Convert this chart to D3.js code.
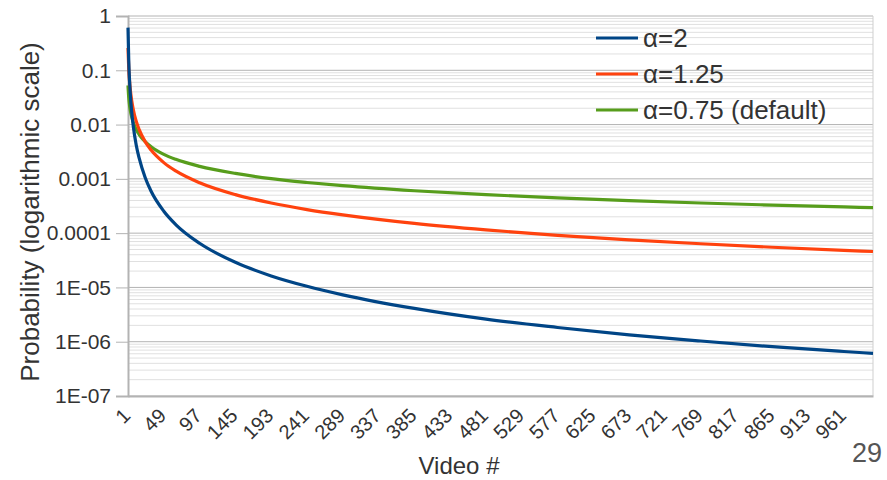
<!DOCTYPE html>
<html>
<head>
<meta charset="utf-8">
<script src="https://cdn.jsdelivr.net/npm/d3@7"></script>
<style>
  body { margin: 0; background: #fff; }
  svg { font-family: "Liberation Sans", Arial, sans-serif; }
</style>
</head>
<body>
<svg id="chart" width="887" height="480"></svg>
<script>
// video rank sampled along the curves
const videoIdx = [1, 2, 3, 4, 6, 8, 12, 16, 24, 32, 49, 65, 97, 145, 193, 241, 289, 385, 481, 577, 673, 769, 865, 961, 1000];

// probabilities
const alpha2 = [0.61, 0.152, 0.0676, 0.038, 0.0169, 0.0095, 0.0042, 0.0024, 0.00106, 0.00059, 0.000253, 0.000144,
  6.5e-5, 2.9e-5, 1.63e-5, 1.05e-5, 7.3e-6, 4.1e-6, 2.6e-6, 1.83e-6, 1.34e-6, 1.03e-6, 8.1e-7, 6.6e-7, 6.1e-7];
const alpha125 = [0.258, 0.1085, 0.0653, 0.0456, 0.0275, 0.0192, 0.01155, 0.00806, 0.00486, 0.00339, 0.00199, 0.0014,
  0.000848, 0.000513, 0.000359, 0.000272, 0.000217, 0.000151, 0.0001146, 9.12e-5, 7.53e-5, 6.37e-5, 5.5e-5, 4.82e-5, 4.59e-5];
const alpha075 = [0.0525, 0.0312, 0.023, 0.0186, 0.0137, 0.011, 0.00814, 0.00656, 0.00484, 0.0039, 0.00283, 0.00229,
  0.0017, 0.00126, 0.00101, 0.000858, 0.000749, 0.000604, 0.000511, 0.000446, 0.000397, 0.000359, 0.000329, 0.000304, 0.000295];

const seriesNames = ['α=2', 'α=1.25', 'α=0.75 (default)'];
const seriesColors = ['#004586', '#ff420e', '#579d1c'];

const yTicks = [1, 0.1, 0.01, 0.001, 0.0001, 1e-5, 1e-6, 1e-7];
const yTickLabels = ['1', '0.1', '0.01', '0.001', '0.0001', '1E-05', '1E-06', '1E-07'];
const xTicks = [1, 49, 97, 145, 193, 241, 289, 337, 385, 433, 481, 529, 577, 625, 673, 721, 769, 817, 865, 913, 961];

let margin = { top: 16, right: 14, bottom: 84, left: 128 };
let width = 887, height = 480;

let svg = d3.select('#chart');

let x = d3.scaleLinear()
  .domain([1, 1000])
  .range([margin.left, width - margin.right]);

let y = d3.scaleLog()
  .domain([1e-7, 1])
  .range([height - margin.bottom, margin.top]);

// minor grid (2..9 of each decade)
let minor = [];
yTicks.slice(1).forEach(t => {
  for (let m = 2; m <= 9; m++) minor.push(t * m);
});

svg.append('g')
  .selectAll('line')
  .data(minor)
  .enter()
    .append('line')
    .attr('x1', x(1)).attr('x2', x(1000))
    .attr('y1', d => y(d)).attr('y2', d => y(d))
    .attr('stroke', '#e0e0e0')
    .attr('stroke-width', 1);

// major grid
svg.append('g')
  .selectAll('line')
  .data(yTicks)
  .enter()
    .append('line')
    .attr('x1', x(1)).attr('x2', x(1000))
    .attr('y1', d => y(d)).attr('y2', d => y(d))
    .attr('stroke', '#b3b3b3')
    .attr('stroke-width', 1);

// right border
svg.append('line')
  .attr('x1', x(1000)).attr('x2', x(1000))
  .attr('y1', y(1)).attr('y2', y(1e-7))
  .attr('stroke', '#cfcfcf');

// y axis
let yAxis = svg.append('g')
  .attr('transform', `translate(${x(1)},0)`)
  .call(d3.axisLeft(y).tickValues(yTicks).tickFormat((d, i) => yTickLabels[i]).tickSize(12).tickPadding(5));
yAxis.select('.domain').attr('stroke', '#b3b3b3').attr('stroke-width', 2);
yAxis.selectAll('.tick line').attr('stroke', '#b3b3b3');
yAxis.selectAll('.tick text')
  .attr('font-size', 21)
  .attr('fill', '#333');

// x axis
let xAxis = svg.append('g')
  .attr('transform', `translate(0,${y(1e-7)})`)
  .call(d3.axisBottom(x).tickValues(xTicks).tickSize(0).tickFormat(d => d));
xAxis.select('.domain').attr('stroke', '#b3b3b3').attr('stroke-width', 2);
xAxis.selectAll('.tick text')
  .attr('font-size', 20)
  .attr('fill', '#333')
  .attr('text-anchor', 'end')
  .attr('y', 0)
  .attr('dy', 0)
  .attr('transform', 'translate(3,21) rotate(-45)');

// curves
let line = d3.line()
  .x(d => x(d[0]))
  .y(d => y(d[1]))
  .curve(d3.curveMonotoneX);

let series = [alpha2, alpha125, alpha075];
series.slice().reverse().forEach((vals, j) => {
  let i = series.length - 1 - j;
  svg.append('path')
    .datum(videoIdx.map((v, k) => [v, vals[k]]))
    .attr('d', line)
    .attr('fill', 'none')
    .attr('stroke', seriesColors[i])
    .attr('stroke-width', 3.2);
});

// legend
let legend = svg.append('g')
  .selectAll('g')
  .data(seriesNames)
  .enter()
    .append('g')
    .attr('transform', (d, i) => `translate(596,${38 + i * 36})`);
legend.append('line')
  .attr('x1', 0).attr('x2', 42)
  .attr('stroke', (d, i) => seriesColors[i])
  .attr('stroke-width', 3.2);
legend.append('text')
  .attr('x', 47)
  .attr('dy', '0.35em')
  .attr('font-size', 26)
  .attr('fill', '#333')
  .text(d => d);

// titles
svg.append('text')
  .attr('transform', `translate(39,212) rotate(-90)`)
  .attr('text-anchor', 'middle')
  .attr('font-size', 26)
  .attr('fill', '#333')
  .text('Probability (logarithmic scale)');

svg.append('text')
  .attr('x', 459)
  .attr('y', 474)
  .attr('text-anchor', 'middle')
  .attr('font-size', 24)
  .attr('fill', '#333')
  .text('Video #');

// slide number
svg.append('text')
  .attr('x', 882)
  .attr('y', 462)
  .attr('text-anchor', 'end')
  .attr('font-size', 27)
  .attr('fill', '#555')
  .text('29');
</script>
</body>
</html>
